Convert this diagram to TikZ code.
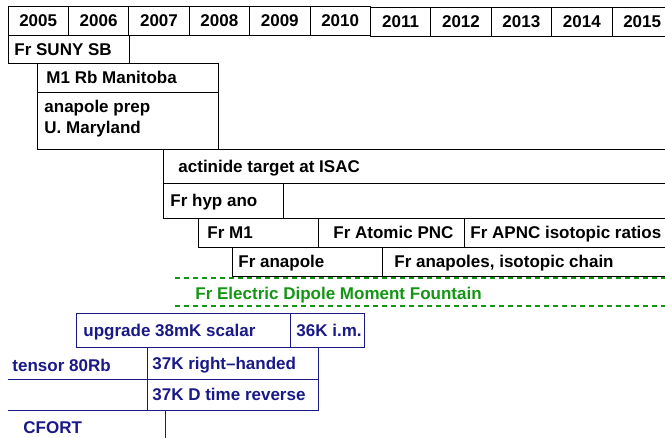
\documentclass[tikz,border=0pt]{standalone}
\usepackage{fontspec}
\setmainfont{Liberation Sans}
\usetikzlibrary{positioning}
\definecolor{navy}{RGB}{25,25,135}
\definecolor{edmgreen}{RGB}{20,150,20}
\tikzset{yr/.style={draw,anchor=north west,minimum width=60.4pt,minimum height=29pt,inner sep=0pt,outer sep=0pt,text height=12.2pt,text depth=0pt,font=\fontsize{17}{21}\selectfont\bfseries}}
\tikzset{ev/.style={draw,anchor=north west,inner sep=0pt,outer sep=0pt}}
\tikzset{lab/.style={inner sep=0pt,text height=12.2pt,text depth=0pt,font=\fontsize{17}{21}\selectfont\bfseries}}
\tikzset{bl/.style={draw=navy,text=navy},edm/.style={color=edmgreen,line width=1.2pt,dash pattern=on 5pt off 4pt}}

\begin{document}
\begin{tikzpicture}[x=1pt,y=-1pt,line width=0.9pt]
        \useasboundingbox (0,0) rectangle (665,438);
        % years
        \node[yr] (y05) at (8,6) {2005};
        \node[yr] (y06) at (68.4,6) {2006};
        \node[yr] (y07) at (128.8,6) {2007};
        \node[yr] (y08) at (189.2,6) {2008};
        \node[yr] (y09) at (249.6,6) {2009};
        \node[yr] (y10) at (310,6) {2010};
        \node[yr] (y11) at (370.4,7) {2011};
        \node[yr] (y12) at (430.8,7) {2012};
        \node[yr] (y13) at (491.2,7) {2013};
        \node[yr] (y14) at (551.6,7) {2014};
        \node[yr] (y15) at (612,7) {2015};

        % francium program
        \node[ev,minimum width=121pt,minimum height=28pt] (suny) at (8,35) {};
        \node[lab,right=6pt of suny.west] (sunyt) {Fr SUNY SB};
        \node[ev,minimum width=181pt,minimum height=29pt] (mani) at (37,63) {};
        \node[lab,right=9pt of mani.west] (manit) {M1 Rb Manitoba};
        \node[ev,minimum width=181pt,minimum height=57pt] (prep) at (37,92) {};
        \node[inner sep=0pt,align=left,font=\fontsize{17}{21}\selectfont\bfseries,below right=8pt and 7pt of prep.north west] (prept) {anapole prep\\U. Maryland};
        \node[ev,minimum width=540pt,minimum height=34pt] (isac) at (163,149) {};
        \node[lab,right=15pt of isac.west] (isact) {actinide target at ISAC};
        \node[ev,minimum width=120pt,minimum height=35pt] (hyp) at (163,183) {};
        \node[lab,right=7pt of hyp.west] (hypt) {Fr hyp ano};
        \node[ev,minimum width=120pt,minimum height=29pt] (fm1) at (198,218) {};
        \node[lab,right=9pt of fm1.west] (fm1t) {Fr M1};
        \node[ev,minimum width=146pt,minimum height=29pt] (pnc) at (318,218) {};
        \node[lab,right=15pt of pnc.west] (pnct) {Fr Atomic PNC};
        \node[ev,minimum width=240pt,minimum height=29pt] (ratio) at (464,218) {};
        \node[lab,right=6pt of ratio.west] (ratiot) {Fr APNC isotopic ratios};
        \node[ev,minimum width=150pt,minimum height=29pt] (anap) at (232,247) {};
        \node[lab,right=6pt of anap.west] (anapt) {Fr anapole};
        \node[ev,minimum width=320pt,minimum height=29pt] (chain) at (382,247) {};
        \node[lab,right=12pt of chain.west] (chaint) {Fr anapoles, isotopic chain};

        % EDM
        \coordinate (edma) at (175,278);
        \coordinate (edmb) at (175,306);
        \coordinate (edmc) at (665,278);
        \coordinate (edmd) at (665,306);
        \draw[edm] (edma) -- (edmc);
        \draw[edm] (edmb) -- (edmd);
        \node[lab,text=edmgreen,anchor=west] (edmt) at (195,293) {Fr Electric Dipole Moment Fountain};

        % rubidium/potassium program
        \node[ev,bl,minimum width=214pt,minimum height=34pt] (up) at (76,313) {};
        \node[lab,text=navy,right=7pt of up.west] (upt) {upgrade 38mK scalar};
        \node[ev,bl,minimum width=74pt,minimum height=34pt] (im) at (290,313) {};
        \node[lab,text=navy,right=6pt of im.west] (imt) {36K i.m.};
        \node[ev,bl,minimum width=171pt,minimum height=32pt] (rh) at (147,347) {};
        \node[lab,text=navy,right=5pt of rh.west] (rht) {37K right--handed};
        \node[ev,bl,minimum width=171pt,minimum height=31pt] (tr) at (147,379) {};
        \node[lab,text=navy,right=5pt of tr.west] (trt) {37K D time reverse};
        \node[lab,text=navy,anchor=west] (tens) at (12,365) {tensor 80Rb};
        \node[lab,text=navy,anchor=west] (cfort) at (23,427) {CFORT};
        \draw[navy] (rh.south west) -- (rh.south west -| 8,0);
        \draw[navy] (tr.south west) -- (tr.south west -| 8,0);
        \draw[navy] (tr.south west) ++(18,0) -- ++(0,30);
    \end{tikzpicture}
\end{document}
